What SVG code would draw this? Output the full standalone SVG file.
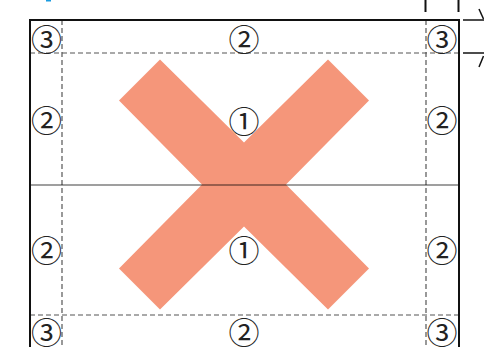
<svg xmlns="http://www.w3.org/2000/svg" width="484" height="347" viewBox="0 0 484 347">
<style>
.dash{stroke:#555;stroke-width:1.2;stroke-dasharray:5,3;fill:none}
.frame{stroke:#111;stroke-width:2;fill:none}
.num{font-family:"Noto Sans CJK JP","DejaVu Sans",sans-serif;font-size:31px;fill:#222;text-anchor:middle;dominant-baseline:central}
.dim{stroke:#111;stroke-width:1.5;fill:none}
</style>
<rect width="484" height="347" fill="#fff"/>
<rect x="46" y="0" width="5" height="1.5" fill="#1a9be0"/>
<g id="cross">
<polygon fill="#F5967A" points="160,59.5 244,142.5 328,59.5 369,100.5 286,184.5 369,268.5 328,309.5 244,226.5 160,309.5 119,268.5 202,184.5 119,100.5"/>
</g>
<g id="connectors">
<line class="dash" x1="62" y1="20" x2="62" y2="347"/>
<line class="dash" x1="426" y1="20" x2="426" y2="347"/>
<line class="dash" x1="30" y1="53" x2="459" y2="53"/>
<line class="dash" x1="30" y1="315" x2="459" y2="315"/>
<line x1="30" y1="185" x2="459" y2="185" stroke="#000" stroke-opacity="0.5" stroke-width="1.6"/>
<path class="frame" d="M30,347 V20 H459 V347"/>
<line class="frame" x1="425.5" y1="0" x2="425.5" y2="12"/>
<line class="frame" x1="458.5" y1="0" x2="458.5" y2="12"/>
<line class="dim" x1="463" y1="20" x2="484" y2="20"/>
<line class="dim" x1="463" y1="53" x2="484" y2="53"/>
<line class="dim" x1="479" y1="9" x2="483.5" y2="19"/>
<line class="dim" x1="479" y1="67" x2="483.5" y2="56"/>
</g>
<g id="labels">
<text class="num" x="46.5" y="37">③</text>
<text class="num" x="244" y="37">②</text>
<text class="num" x="442" y="37">③</text>
<text class="num" x="46.5" y="118">②</text>
<text class="num" x="244" y="119">①</text>
<text class="num" x="442" y="118">②</text>
<text class="num" x="46.5" y="248">②</text>
<text class="num" x="244" y="248">①</text>
<text class="num" x="442" y="248">②</text>
<text class="num" x="46.5" y="330">③</text>
<text class="num" x="244" y="330">②</text>
<text class="num" x="442" y="330">③</text>
</g>
</svg>
